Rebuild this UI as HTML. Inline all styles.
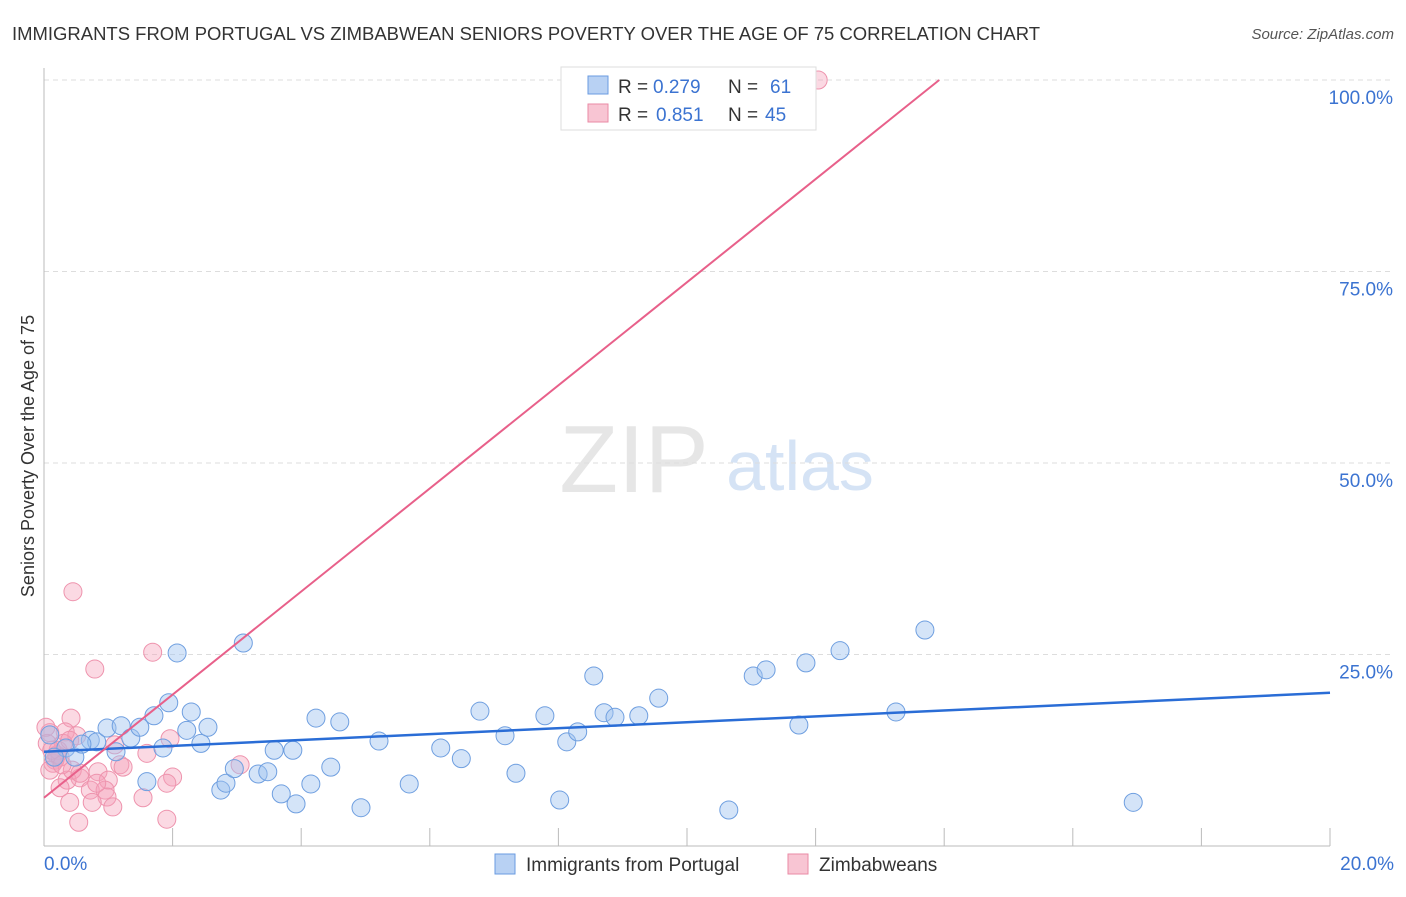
<!DOCTYPE html>
<html><head><meta charset="utf-8"><style>
body{margin:0;background:#fff;font-family:"Liberation Sans",sans-serif;}
svg text{font-family:"Liberation Sans",sans-serif;}
</style></head><body>
<svg id="chart" width="1406" height="892">
<text x="12" y="40" font-size="18" fill="#333" textLength="1028" lengthAdjust="spacingAndGlyphs">IMMIGRANTS FROM PORTUGAL VS ZIMBABWEAN SENIORS POVERTY OVER THE AGE OF 75 CORRELATION CHART</text>
<text x="1394" y="39" font-size="15" fill="#555" font-style="italic" text-anchor="end">Source: ZipAtlas.com</text>
<text x="634" y="492" font-size="96" fill="#e6e6e6" font-family="Liberation Serif" text-anchor="middle">ZIP</text>
<text x="800" y="490" font-size="70" fill="#d5e3f5" text-anchor="middle">atlas</text>
<g id="grid"></g><g id="axes"></g><g id="pts"></g><g id="lines"></g>
<text transform="translate(34,456) rotate(-90)" font-size="18" fill="#333" text-anchor="middle">Seniors Poverty Over the Age of 75</text>
<g>
<rect x="561" y="67" width="255" height="63" fill="#fff" stroke="#ddd"/>
<rect x="588" y="76" width="20" height="18" fill="#b8d1f3" stroke="#6a9be0"/>
<text x="618" y="93" font-size="19" fill="#333">R =</text>
<text x="653" y="93" font-size="19" fill="#3b73d1">0.279</text>
<text x="728" y="93" font-size="19" fill="#333">N =</text>
<text x="770" y="93" font-size="19" fill="#3b73d1">61</text>
<rect x="588" y="104" width="20" height="18" fill="#f8c5d3" stroke="#ea8aa5"/>
<text x="618" y="121" font-size="19" fill="#333">R =</text>
<text x="656" y="121" font-size="19" fill="#3b73d1">0.851</text>
<text x="728" y="121" font-size="19" fill="#333">N =</text>
<text x="765" y="121" font-size="19" fill="#3b73d1">45</text>
</g>
<g>
<rect x="495" y="854" width="20" height="20" fill="#b8d1f3" stroke="#6a9be0"/>
<text x="526" y="871" font-size="19" fill="#333">Immigrants from Portugal</text>
<rect x="788" y="854" width="20" height="20" fill="#f8c5d3" stroke="#ea8aa5"/>
<text x="819" y="871" font-size="19" fill="#333">Zimbabweans</text>
</g>
</svg>
<script>
const yTicks=[25,50,75,100];
const yTickLabels=["25.0%","50.0%","75.0%","100.0%"];
const xEndLabels=["0.0%","20.0%"];
const blueX=[0.09,0.34,0.48,0.72,0.82,0.98,1.12,1.2,1.35,1.49,1.6,1.71,1.85,1.94,2.07,2.22,2.29,2.44,2.55,2.75,2.83,2.96,3.1,3.33,3.48,3.58,3.69,3.87,3.92,4.15,4.23,4.46,4.6,4.93,5.21,5.68,6.17,6.49,6.78,7.17,7.34,7.79,8.02,8.13,8.3,8.55,8.71,8.88,9.25,9.56,10.65,11.03,11.23,11.74,11.85,12.38,13.25,13.7,16.94,0.16,0.59];
const blueY=[14.5,12.8,11.6,13.8,13.6,15.4,12.3,15.7,14.1,15.5,8.4,17.0,12.8,18.7,25.2,15.1,17.5,13.4,15.5,7.3,8.2,10.1,26.5,9.4,9.7,12.5,6.8,12.5,5.5,8.1,16.7,10.3,16.2,5.0,13.7,8.1,12.8,11.4,17.6,14.4,9.5,17.0,6.0,13.6,14.9,22.2,17.4,16.8,17.0,19.3,4.7,22.2,23.0,15.8,23.9,25.5,17.5,28.2,5.7,11.6,13.3];
const pinkX=[0.45,1.69,0.79,0.42,0.33,0.51,0.09,1.96,1.6,1.18,0.17,0.2,0.14,0.84,1.0,3.05,2.0,1.91,0.56,0.36,0.25,0.72,0.95,0.98,0.4,0.75,1.07,1.54,0.54,1.91,0.05,0.3,0.25,0.09,0.44,0.82,1.23,0.56,0.22,0.4,12.04,0.03,0.12,0.28,1.1];
const pinkY=[33.2,25.3,23.1,16.7,14.9,14.4,14.8,14.0,12.1,10.6,11.2,11.9,10.8,9.7,8.6,10.6,9.0,8.2,8.9,8.6,7.6,7.3,7.3,6.4,5.7,5.7,5.1,6.3,3.1,3.5,13.4,13.4,11.6,9.9,9.9,8.2,10.3,9.5,12.5,13.8,100,15.5,12.5,10.6,13.2];
const blueLine=[12.3,0.385];
const pinkLine=[6.3,6.73];
const NS='http://www.w3.org/2000/svg';
const X=v=>44+v/20*1286, Y=v=>846-v*7.66;
function mk(t,a,p){const e=document.createElementNS(NS,t);for(const k in a)e.setAttribute(k,a[k]);p.appendChild(e);return e;}
const grid=document.getElementById('grid'),axes=document.getElementById('axes');
yTicks.forEach((t,i)=>{
 const l=mk('line',{x1:44,x2:1394,y1:Y(t),y2:Y(t),stroke:'#ddd','stroke-dasharray':'5,4'},grid);
 
 
 const tx=mk('text',{x:1393,y:Y(t)+24,'font-size':19,fill:'#3b73d1','text-anchor':'end'},axes);
 tx.textContent=yTickLabels[i];
 
 
});
const ax=mk('line',{x1:44,x2:44,y1:68,y2:846,stroke:'#bbb'},axes);


const bx=mk('line',{x1:44,x2:1330,y1:846,y2:846,stroke:'#bbb'},axes);


for(let i=1;i<=10;i++){const t=mk('line',{x1:X(i*2),x2:X(i*2),y1:828,y2:846,stroke:'#bbb'},axes);
 
 }
[[0,'start',44],[20,'end',1394]].forEach((d,i)=>{const t=mk('text',{x:d[2],y:870,'font-size':19,fill:'#3b73d1','text-anchor':d[1]},axes);t.textContent=xEndLabels[i];
 
 });
const pts=document.getElementById('pts');
pinkX.forEach((x,i)=>{const c=mk('circle',{cx:X(x),cy:Y(pinkY[i]),r:9,fill:'rgba(244,160,185,0.4)',stroke:'#ee93ad','stroke-width':1},pts);
 
 });
blueX.forEach((x,i)=>{const c=mk('circle',{cx:X(x),cy:Y(blueY[i]),r:9,fill:'rgba(160,195,240,0.45)',stroke:'#6f9fe0','stroke-width':1},pts);
 
 });
const lines=document.getElementById('lines');
const bl=mk('line',{x1:X(0),y1:Y(blueLine[0]),x2:X(20),y2:Y(blueLine[0]+20*blueLine[1]),stroke:'#2a6dd6','stroke-width':2.5},lines);


const xe=(100-pinkLine[0])/pinkLine[1];
const pl=mk('line',{x1:X(0),y1:Y(pinkLine[0]),x2:X(xe),y2:Y(100),stroke:'#e8608a','stroke-width':2},lines);


</script>
</body></html>
